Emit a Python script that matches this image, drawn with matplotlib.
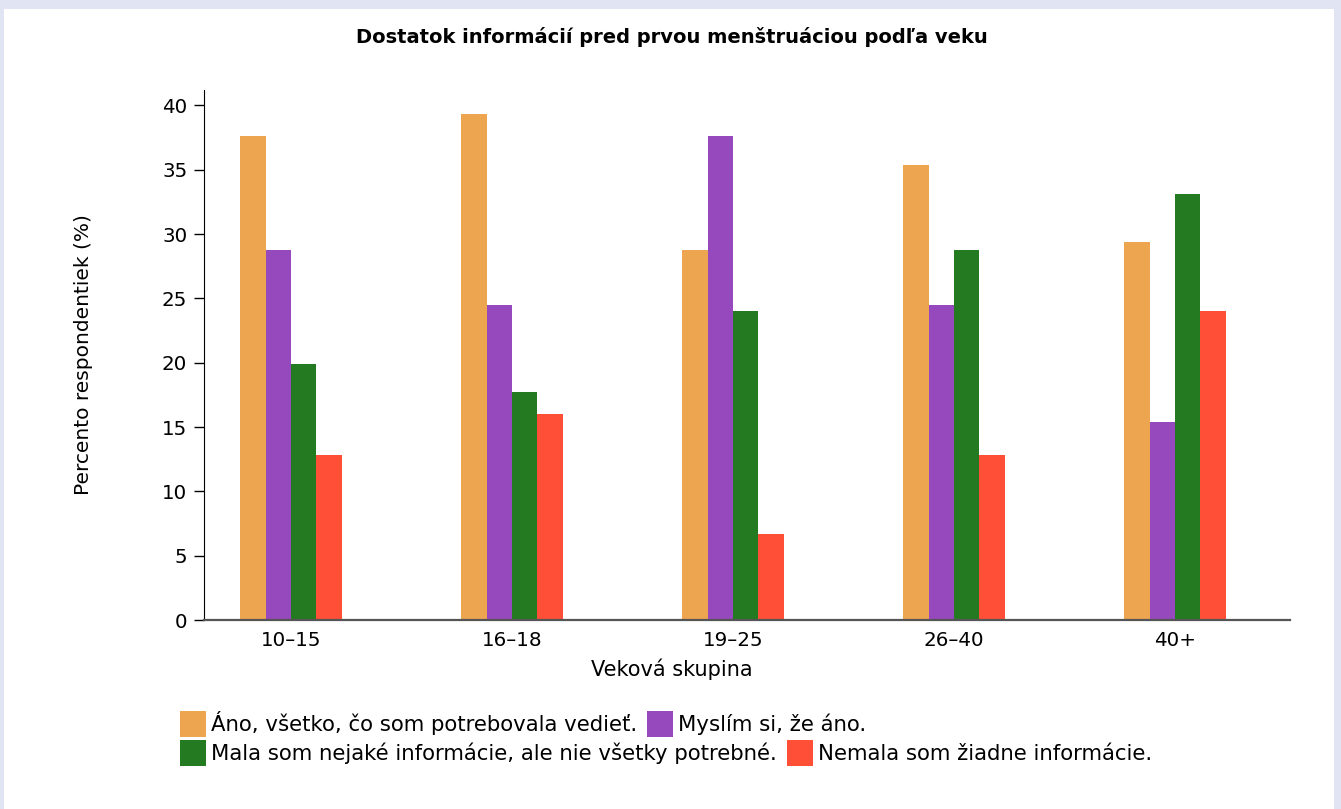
import numpy as np
import matplotlib
matplotlib.use("Agg")
import matplotlib.pyplot as plt
from matplotlib.patches import Patch, Rectangle

# ── data ──────────────────────────────────────────────
age_groups = ["10–15", "16–18", "19–25", "26–40", "40+"]
series_labels = [
    "Áno, všetko, čo som potrebovala vedieť.",
    "Myslím si, že áno.",
    "Mala som nejaké informácie, ale nie všetky potrebné.",
    "Nemala som žiadne informácie.",
]
ano_vsetko = [37.6, 39.3, 28.8, 35.4, 29.4]
myslim_ano = [28.8, 24.5, 37.6, 24.5, 15.4]
mala_nejake = [19.9, 17.7, 24.0, 28.8, 33.1]
nemala = [12.8, 16.0, 6.7, 12.8, 24.0]
y_ticks = [0, 5, 10, 15, 20, 25, 30, 35, 40]

colors = ["#eea54f", "#9549bc", "#237a21", "#ff4f37"]
_BG_OUTER = "#e1e4f2"

W, H = 1341, 809
fig = plt.figure(figsize=(W / 100, H / 100), dpi=100, facecolor=_BG_OUTER)
# white card on lavender background
fig.patches.append(Rectangle((4 / W, 0), 1330 / W, 1 - 9 / H, transform=fig.transFigure,
                             facecolor="white", edgecolor="none", zorder=-1))

ax = fig.add_axes([204 / W, 1 - 620 / H, (1290 - 204) / W, (620 - 90) / H])
ax.set_facecolor("none")

x = np.arange(len(age_groups))
bw = 0.115
all_series = [ano_vsetko, myslim_ano, mala_nejake, nemala]
for i, (vals, col) in enumerate(zip(all_series, colors)):
    ax.bar(x + (i - 1.5) * bw, vals, width=bw, color=col, zorder=1)

ax.set_xlim(-0.394, 4.52)
ax.set_ylim(0, 41.2)
ax.set_yticks(y_ticks)
ax.set_xticks(x)
ax.set_xticklabels(age_groups)
ax.tick_params(axis="y", length=7, width=1, labelsize=14.3, pad=5)
ax.tick_params(axis="x", length=0, labelsize=14.3, pad=8)

for s in ["top", "right"]:
    ax.spines[s].set_visible(False)
ax.spines["left"].set_color("black")
ax.spines["bottom"].set_color("#555555")
ax.spines["bottom"].set_linewidth(1.6)
ax.spines["bottom"].set_zorder(3)

ax.set_ylabel("Percento respondentiek (%)", fontsize=14.5, labelpad=50)
ax.set_xlabel("Veková skupina", fontsize=15)
ax.xaxis.set_label_coords((672 - 204) / 1086, (620 - 669) / 530)
ax.xaxis.label.set_va("center")

fig.text(672 / W, 1 - 37 / H, "Dostatok informácií pred prvou menštruáciou podľa veku",
         ha="center", va="center", fontsize=14, fontweight="bold")

# ── legend: two flowing rows ──────────────────────────
handles = [Patch(facecolor=c, edgecolor="none") for c in colors]
fs = 15.3
fs_px = fs * 100 / 72
for row, y_mid in enumerate([724, 753]):
    fig.legend(handles[2 * row:2 * row + 2], series_labels[2 * row:2 * row + 2],
               loc="center left", bbox_to_anchor=(180 / W, 1 - y_mid / H),
               ncol=2, frameon=False, borderpad=0, borderaxespad=0,
               handlelength=26 / fs_px, handleheight=1.48,
               handletextpad=0.22, columnspacing=0.5, labelspacing=0,
               prop={"size": fs})

fig.savefig("out.png", dpi=100, facecolor=fig.get_facecolor())
